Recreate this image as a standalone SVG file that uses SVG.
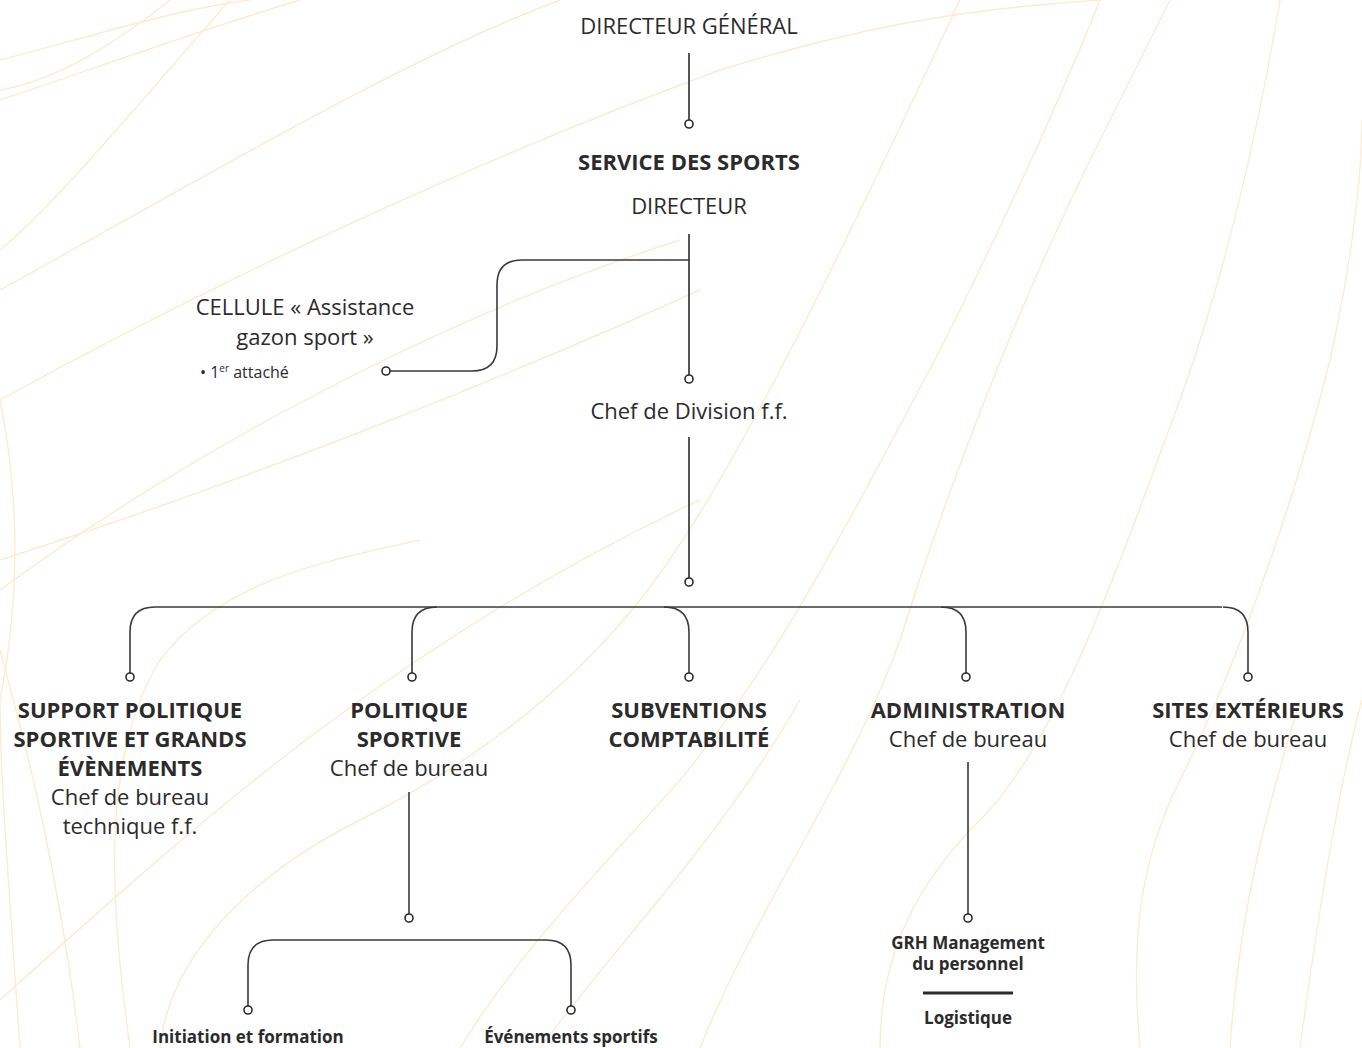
<svg xmlns="http://www.w3.org/2000/svg" width="1362" height="1048" viewBox="0 0 1362 1048">
<style>
.bg{fill:none;stroke:#fdebd0;stroke-width:1.4}
.t{font-family:"Open Sans","Liberation Sans",sans-serif;fill:#2b2b2b;text-anchor:middle}
.r{font-size:22px}
.b{font-size:22px;font-weight:700}
.s{font-size:17px;font-weight:700}
.sm{font-size:16px}
.ln{fill:none;stroke:#3a3a3a;stroke-width:1.6}
.lt{fill:none;stroke:#555;stroke-width:2}
.dot{fill:#fff;stroke:#2b2b2b;stroke-width:1.6}
</style>
<rect width="1362" height="1048" fill="#fff"/>
<g id="background">
<path class="bg" d="M0,60 C80,40 170,10 250,0"/>
<path class="bg" d="M0,100 C90,70 200,30 300,0"/>
<path class="bg" d="M0,90 C60,80 120,40 170,0"/>
<path class="bg" d="M0,250 C60,200 150,90 230,0"/>
<path class="bg" d="M0,290 C200,180 400,60 560,0"/>
<path class="bg" d="M0,400 C200,290 450,170 720,70 C850,30 950,10 1100,0"/>
<path class="bg" d="M0,590 C150,480 400,330 680,240"/>
<path class="bg" d="M0,1000 C200,820 400,640 700,500"/>
<path class="bg" d="M0,560 C250,480 500,380 700,290"/>
<path class="bg" d="M20,1048 C10,900 0,780 0,700"/>
<path class="bg" d="M0,400 C20,500 20,600 0,700"/>
<path class="bg" d="M0,650 C30,760 60,880 80,1048"/>
<path class="bg" d="M130,1048 C110,900 100,760 160,660 C220,580 330,560 420,540"/>
<path class="bg" d="M160,1048 C170,950 260,870 360,820 C460,770 560,700 640,600 C720,500 820,300 960,0"/>
<path class="bg" d="M460,1048 C520,950 600,870 680,780 C780,660 860,500 940,350 C1000,230 1060,100 1100,0"/>
<path class="bg" d="M540,1048 C620,940 720,840 800,700"/>
<path class="bg" d="M700,1048 C760,900 850,780 900,640 C950,480 1020,300 1100,140 C1130,80 1150,40 1170,0"/>
<path class="bg" d="M880,1048 C880,950 920,880 980,820 C1060,740 1120,560 1180,400 C1230,260 1260,120 1280,0"/>
<path class="bg" d="M1140,1048 C1130,940 1140,860 1180,780 C1230,680 1290,520 1330,360 C1350,270 1362,180 1362,120"/>
<path class="bg" d="M1300,1048 C1320,900 1340,780 1362,700"/>
<path class="bg" d="M1230,1048 C1240,900 1270,800 1300,700"/>
</g>
<g id="connectors">
<line class="lt" x1="689" y1="53" x2="689" y2="120"/>
<line class="lt" x1="689" y1="234" x2="689" y2="375"/>
<path class="ln" d="M689,260 H522 Q497,260 497,285 V346 Q497,371 472,371 H390"/>
<line class="lt" x1="689" y1="437" x2="689" y2="578"/>
<path class="ln" d="M155,607 H1222"/>
<path class="ln" d="M155,607 Q130,607 130,632 V673"/>
<path class="ln" d="M437,607 Q412,607 412,632 V673"/>
<path class="ln" d="M664,607 Q689,607 689,632 V673"/>
<path class="ln" d="M941,607 Q966,607 966,632 V673"/>
<path class="ln" d="M1223,607 Q1248,607 1248,632 V673"/>
<line class="ln" x1="409" y1="792" x2="409" y2="914"/>
<path class="ln" d="M273,940 H546 Q571,940 571,965 V1006 M273,940 Q248,940 248,965 V1006"/>
<line class="ln" x1="968" y1="762" x2="968" y2="914"/>
<circle class="dot" cx="689" cy="124" r="4"/>
<circle class="dot" cx="689" cy="379" r="4"/>
<circle class="dot" cx="386" cy="371" r="4"/>
<circle class="dot" cx="689" cy="582" r="4"/>
<circle class="dot" cx="130" cy="677" r="4"/>
<circle class="dot" cx="412" cy="677" r="4"/>
<circle class="dot" cx="689" cy="677" r="4"/>
<circle class="dot" cx="966" cy="677" r="4"/>
<circle class="dot" cx="1248" cy="677" r="4"/>
<circle class="dot" cx="409" cy="918" r="4"/>
<circle class="dot" cx="248" cy="1010" r="4"/>
<circle class="dot" cx="571" cy="1010" r="4"/>
<circle class="dot" cx="968" cy="918" r="4"/>
</g>
<g id="n-dg"><text class="t r" x="689" y="34">DIRECTEUR GÉNÉRAL</text></g>
<g id="n-service"><text class="t b" x="689" y="170">SERVICE DES SPORTS</text><text class="t r" x="689" y="214">DIRECTEUR</text></g>
<g id="n-cellule"><text class="t r" x="305" y="315">CELLULE « Assistance</text><text class="t r" x="305" y="345">gazon sport »</text><text class="t sm" x="200" y="378" style="text-anchor:start">• 1<tspan font-size="10" dy="-6">er</tspan><tspan dy="6"> attaché</tspan></text></g>
<g id="n-division"><text class="t r" x="689" y="419">Chef de Division f.f.</text></g>
<g id="n-support"><text class="t b" x="130" y="718">SUPPORT POLITIQUE</text><text class="t b" x="130" y="747">SPORTIVE ET GRANDS</text><text class="t b" x="130" y="776">ÉVÈNEMENTS</text><text class="t r" x="130" y="805">Chef de bureau</text><text class="t r" x="130" y="834">technique f.f.</text></g>
<g id="n-politique"><text class="t b" x="409" y="718">POLITIQUE</text><text class="t b" x="409" y="747">SPORTIVE</text><text class="t r" x="409" y="776">Chef de bureau</text></g>
<g id="n-subventions"><text class="t b" x="689" y="718">SUBVENTIONS</text><text class="t b" x="689" y="747">COMPTABILITÉ</text></g>
<g id="n-admin"><text class="t b" x="968" y="718">ADMINISTRATION</text><text class="t r" x="968" y="747">Chef de bureau</text></g>
<g id="n-sites"><text class="t b" x="1248" y="718">SITES EXTÉRIEURS</text><text class="t r" x="1248" y="747">Chef de bureau</text></g>
<g id="n-initiation"><text class="t s" x="248" y="1043">Initiation et formation</text></g>
<g id="n-evenements"><text class="t s" x="571" y="1043">Événements sportifs</text></g>
<g id="n-grh"><text class="t s" x="968" y="949" font-size="15.5">GRH Management</text><text class="t s" x="968" y="970" font-size="15.5">du personnel</text><line x1="923" y1="993" x2="1013" y2="993" stroke="#2b2b2b" stroke-width="3"/><text class="t s" x="968" y="1024" font-size="16">Logistique</text></g>
</svg>
